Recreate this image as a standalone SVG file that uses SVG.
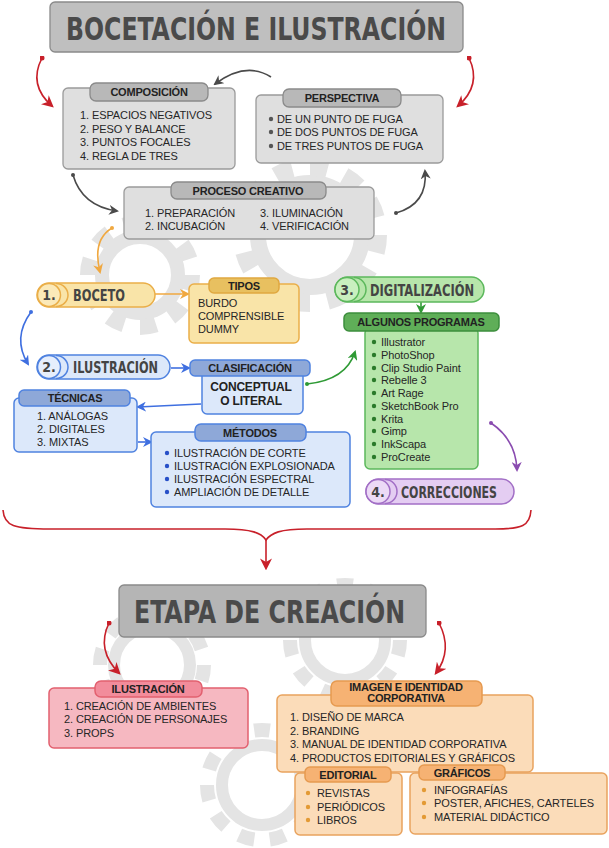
<svg xmlns="http://www.w3.org/2000/svg" width="609" height="848" viewBox="0 0 609 848">
<defs>
<style>
.t{font-family:"Liberation Sans",Arial,sans-serif;font-size:11px;fill:#262626;letter-spacing:-0.1px}
.h{font-family:"Liberation Sans",Arial,sans-serif;font-size:11px;font-weight:bold;fill:#222;text-anchor:middle;letter-spacing:-0.2px}
.big{font-family:"DejaVu Sans Condensed","DejaVu Sans",sans-serif;font-weight:bold;fill:#4a4a4a}
.pl{font-family:"DejaVu Sans Condensed","DejaVu Sans",sans-serif;font-weight:bold;fill:#444;font-size:16px}
.num{font-family:"DejaVu Sans Condensed","DejaVu Sans",sans-serif;font-weight:bold;fill:#444;font-size:14px;text-anchor:middle}
.gray{fill:#dfdfdf;stroke:#9a9a9a;stroke-width:1.3}
.grayh{fill:#b8b8b8;stroke:#8a8a8a;stroke-width:1.3}
.yel{fill:#f9e4a8;stroke:#eaae48;stroke-width:1.5}
.yelh{fill:#e8c060;stroke:#e0a840;stroke-width:1.5}
.blu{fill:#dce8fa;stroke:#4f82e0;stroke-width:1.5}
.bluh{fill:#8ea8d8;stroke:#4f82e0;stroke-width:1.5}
.grn{fill:#b7e6ab;stroke:#5cb85c;stroke-width:1.5}
.grnh{fill:#5fae58;stroke:#3d8e3d;stroke-width:1.5}
.pur{fill:#e4cdf2;stroke:#a26fc6;stroke-width:1.5}
.pnk{fill:#f6b8c1;stroke:#e2606f;stroke-width:1.5}
.pnkh{fill:#f28c9b;stroke:#e2606f;stroke-width:1.5}
.org{fill:#fbdcb9;stroke:#e9a35e;stroke-width:1.5}
.orgh{fill:#f6b273;stroke:#e69a50;stroke-width:1.5}
.gear{fill:none;stroke:#e4e4e4}
.c{fill:none;stroke-width:1.6}
</style>
<marker id="mg" viewBox="0 0 10 10" refX="8" refY="5" markerWidth="10" markerHeight="10" markerUnits="userSpaceOnUse" orient="auto"><path d="M0,0 L10,5 L0,10 L3,5 Z" fill="#4a4a4a"/></marker>
<marker id="mr" viewBox="0 0 10 10" refX="8" refY="5" markerWidth="12" markerHeight="12" markerUnits="userSpaceOnUse" orient="auto"><path d="M0,0 L10,5 L0,10 L3,5 Z" fill="#c8202a"/></marker>
<marker id="mo" viewBox="0 0 10 10" refX="8" refY="5" markerWidth="10" markerHeight="10" markerUnits="userSpaceOnUse" orient="auto"><path d="M0,0 L10,5 L0,10 L3,5 Z" fill="#f0a840"/></marker>
<marker id="mb" viewBox="0 0 10 10" refX="8" refY="5" markerWidth="10" markerHeight="10" markerUnits="userSpaceOnUse" orient="auto"><path d="M0,0 L10,5 L0,10 L3,5 Z" fill="#3f6fe0"/></marker>
<marker id="mgr" viewBox="0 0 10 10" refX="8" refY="5" markerWidth="10" markerHeight="10" markerUnits="userSpaceOnUse" orient="auto"><path d="M0,0 L10,5 L0,10 L3,5 Z" fill="#2f9a35"/></marker>
<marker id="mp" viewBox="0 0 10 10" refX="8" refY="5" markerWidth="10" markerHeight="10" markerUnits="userSpaceOnUse" orient="auto"><path d="M0,0 L10,5 L0,10 L3,5 Z" fill="#8a4cb0"/></marker>
<marker id="dg" viewBox="0 0 4 4" refX="2" refY="2" markerWidth="4" markerHeight="4" markerUnits="userSpaceOnUse"><circle cx="2" cy="2" r="2" fill="#4a4a4a"/></marker>
<marker id="dr" viewBox="0 0 4 4" refX="2" refY="2" markerWidth="5" markerHeight="5" markerUnits="userSpaceOnUse"><circle cx="2" cy="2" r="2" fill="#c8202a"/></marker>
<marker id="do" viewBox="0 0 4 4" refX="2" refY="2" markerWidth="4" markerHeight="4" markerUnits="userSpaceOnUse"><circle cx="2" cy="2" r="2" fill="#f0a840"/></marker>
<marker id="db" viewBox="0 0 4 4" refX="2" refY="2" markerWidth="4" markerHeight="4" markerUnits="userSpaceOnUse"><circle cx="2" cy="2" r="2" fill="#3f6fe0"/></marker>
<marker id="dgr" viewBox="0 0 4 4" refX="2" refY="2" markerWidth="4" markerHeight="4" markerUnits="userSpaceOnUse"><circle cx="2" cy="2" r="2" fill="#2f9a35"/></marker>
<marker id="dp" viewBox="0 0 4 4" refX="2" refY="2" markerWidth="4" markerHeight="4" markerUnits="userSpaceOnUse"><circle cx="2" cy="2" r="2" fill="#8a4cb0"/></marker>
</defs>
<rect width="609" height="848" fill="#ffffff"/>

<g id="gears">
<circle class="gear" cx="310" cy="235" r="52" stroke-width="16"/>
<circle class="gear" cx="310" cy="235" r="68" stroke-width="18" pathLength="24" stroke-dasharray="1 1"/>
<circle class="gear" cx="140" cy="275" r="38" stroke-width="14"/>
<circle class="gear" cx="140" cy="275" r="52" stroke-width="16" pathLength="20" stroke-dasharray="1 1"/>
<circle class="gear" cx="152" cy="665" r="38" stroke-width="12"/>
<circle class="gear" cx="152" cy="665" r="52" stroke-width="14" pathLength="20" stroke-dasharray="1 1"/>
<circle class="gear" cx="345" cy="640" r="40" stroke-width="12"/>
<circle class="gear" cx="345" cy="640" r="55" stroke-width="14" pathLength="22" stroke-dasharray="1 1"/>
<circle class="gear" cx="262" cy="785" r="40" stroke-width="12"/>
<circle class="gear" cx="262" cy="785" r="55" stroke-width="14" pathLength="22" stroke-dasharray="1 1"/>
</g>

<g id="connectors">
<path class="c" d="M42,58 Q28,85 52,106" stroke="#c8202a" stroke-width="2.2" marker-start="url(#dr)" marker-end="url(#mr)"/>
<path class="c" d="M469,58 Q482,85 458,106" stroke="#c8202a" stroke-width="2.2" marker-start="url(#dr)" marker-end="url(#mr)"/>
<path class="c" d="M271,77 Q246,61 215,84" stroke="#4a4a4a" marker-end="url(#mg)"/>
<path class="c" d="M73,175 Q82,206 117,211" stroke="#4a4a4a" marker-start="url(#dg)" marker-end="url(#mg)"/>
<path class="c" d="M396,213 Q428,204 425,171" stroke="#4a4a4a" marker-start="url(#dg)" marker-end="url(#mg)"/>
<path class="c" d="M112,228 Q92,240 100,272" stroke="#f0a840" marker-start="url(#do)" marker-end="url(#mo)"/>
<path class="c" d="M155,294 L188,294" stroke="#f0a840" marker-end="url(#mo)"/>
<path class="c" d="M31,312 Q12,338 28,364" stroke="#3f6fe0" marker-start="url(#db)" marker-end="url(#mb)"/>
<path class="c" d="M171,368 L189,368" stroke="#3f6fe0" marker-end="url(#mb)"/>
<path class="c" d="M201,404 L138,407" stroke="#3f6fe0" marker-end="url(#mb)"/>
<path class="c" d="M138,442 L151,442" stroke="#3f6fe0" marker-end="url(#mb)"/>
<path class="c" d="M421,302 L421,312" stroke="#2f9a35" marker-end="url(#mgr)"/>
<path class="c" d="M307,384 Q346,380 355,352" stroke="#2f9a35" marker-start="url(#dgr)" marker-end="url(#mgr)"/>
<path class="c" d="M491,423 Q516,440 517,470" stroke="#8a4cb0" marker-start="url(#dp)" marker-end="url(#mp)"/>
<path class="c" d="M3,510 C4,526 14,529 50,529 L225,529 C252,529 261,533 266,540 C271,533 280,529 307,529 L495,529 C522,529 530,526 531,510" stroke="#c8202a" stroke-width="2"/>
<path class="c" d="M266,540 L266,568" stroke="#c8202a" stroke-width="2" marker-end="url(#mr)"/>
<path class="c" d="M109,623 Q96,650 119,673" stroke="#c8202a" stroke-width="2.2" marker-start="url(#dr)" marker-end="url(#mr)"/>
<path class="c" d="M439,623 Q453,650 436,673" stroke="#c8202a" stroke-width="2.2" marker-start="url(#dr)" marker-end="url(#mr)"/>
</g>

<g id="n-title">
<rect x="50" y="2" width="413" height="50" rx="5" fill="#bfbfbf" stroke="#8a8a8a" stroke-width="1.3"/>
<text class="big" x="66" y="40" font-size="32" textLength="380" lengthAdjust="spacingAndGlyphs">BOCETACIÓN E ILUSTRACIÓN</text>
</g>

<g id="n-composicion">
<rect class="gray" x="63" y="88" width="172" height="81" rx="5"/>
<rect class="grayh" x="90" y="83" width="118" height="18" rx="6"/>
<text class="h" x="149" y="96">COMPOSICIÓN</text>
<text class="t" x="80" y="119">1. ESPACIOS NEGATIVOS</text>
<text class="t" x="80" y="133">2. PESO Y BALANCE</text>
<text class="t" x="80" y="146">3. PUNTOS FOCALES</text>
<text class="t" x="80" y="160">4. REGLA DE TRES</text>
</g>

<g id="n-perspectiva">
<rect class="gray" x="256" y="95" width="187" height="68" rx="5"/>
<rect class="grayh" x="283" y="89" width="118" height="18" rx="6"/>
<text class="h" x="342" y="102">PERSPECTIVA</text>
<circle cx="271" cy="119" r="2.2" fill="#555"/>
<circle cx="271" cy="132" r="2.2" fill="#555"/>
<circle cx="271" cy="146" r="2.2" fill="#555"/>
<text class="t" x="277" y="123">DE UN PUNTO DE FUGA</text>
<text class="t" x="277" y="136">DE DOS PUNTOS DE FUGA</text>
<text class="t" x="277" y="150">DE TRES PUNTOS DE FUGA</text>
</g>

<g id="n-proceso">
<rect class="gray" x="124" y="187" width="250" height="52" rx="5"/>
<rect class="grayh" x="171" y="182" width="155" height="17" rx="6"/>
<text class="h" x="248" y="195">PROCESO CREATIVO</text>
<text class="t" x="145" y="217">1. PREPARACIÓN</text>
<text class="t" x="145" y="230">2. INCUBACIÓN</text>
<text class="t" x="260" y="217">3. ILUMINACIÓN</text>
<text class="t" x="260" y="230">4. VERIFICACIÓN</text>
</g>

<g id="n-boceto">
<rect class="yel" x="37" y="283" width="118" height="24" rx="12"/>
<path d="M56,283.5 A12,11.5 0 0 1 56,306.5" fill="none" stroke="#eaae48" stroke-width="1.5"/>
<circle cx="49" cy="295" r="11.5" fill="#fbe9b8" stroke="#eaae48" stroke-width="1.5"/>
<text class="num" x="49" y="300">1.</text>
<text class="pl" x="73" y="301" textLength="52" lengthAdjust="spacingAndGlyphs">BOCETO</text>
</g>

<g id="n-tipos">
<rect class="yel" x="189" y="284" width="110" height="59" rx="5"/>
<rect class="yelh" x="209" y="278" width="70" height="15" rx="5"/>
<text class="h" x="244" y="290">TIPOS</text>
<text class="t" x="198" y="307">BURDO</text>
<text class="t" x="198" y="320">COMPRENSIBLE</text>
<text class="t" x="198" y="333">DUMMY</text>
</g>

<g id="n-ilustracion">
<rect class="blu" x="37" y="355" width="133" height="24" rx="12"/>
<path d="M56,355.5 A12,11.5 0 0 1 56,378.5" fill="none" stroke="#4f82e0" stroke-width="1.5"/>
<circle cx="49" cy="367" r="11.5" fill="#e6eefc" stroke="#4f82e0" stroke-width="1.5"/>
<text class="num" x="49" y="372">2.</text>
<text class="pl" x="73" y="373" textLength="85" lengthAdjust="spacingAndGlyphs">ILUSTRACIÓN</text>
</g>

<g id="n-clasificacion">
<rect class="blu" x="202" y="370" width="101" height="44" rx="5"/>
<rect class="bluh" x="190" y="360" width="120" height="16" rx="5"/>
<text class="h" x="250" y="372">CLASIFICACIÓN</text>
<text class="h" x="251" y="391" style="font-size:12px">CONCEPTUAL</text>
<text class="h" x="251" y="405" style="font-size:12px">O LITERAL</text>
</g>

<g id="n-tecnicas">
<rect class="blu" x="14" y="398" width="123" height="54" rx="5"/>
<rect class="bluh" x="19" y="390" width="111" height="16" rx="5"/>
<text class="h" x="75" y="402">TÉCNICAS</text>
<text class="t" x="37" y="420">1. ANÁLOGAS</text>
<text class="t" x="37" y="433">2. DIGITALES</text>
<text class="t" x="37" y="446">3. MIXTAS</text>
</g>

<g id="n-metodos">
<rect class="blu" x="151" y="432" width="199" height="75" rx="5"/>
<rect class="bluh" x="195" y="424" width="111" height="17" rx="6"/>
<text class="h" x="250" y="437">MÉTODOS</text>
<circle cx="167" cy="453" r="2.2" fill="#2850c8"/>
<circle cx="167" cy="466" r="2.2" fill="#2850c8"/>
<circle cx="167" cy="479" r="2.2" fill="#2850c8"/>
<circle cx="167" cy="492" r="2.2" fill="#2850c8"/>
<text class="t" x="174" y="457">ILUSTRACIÓN DE CORTE</text>
<text class="t" x="174" y="470">ILUSTRACIÓN EXPLOSIONADA</text>
<text class="t" x="174" y="483">ILUSTRACIÓN ESPECTRAL</text>
<text class="t" x="174" y="496">AMPLIACIÓN DE DETALLE</text>
</g>

<g id="n-digitalizacion">
<rect class="grn" x="335" y="277" width="149" height="25" rx="12.5"/>
<path d="M354,277.5 A12,12 0 0 1 354,301.5" fill="none" stroke="#5cb85c" stroke-width="1.5"/>
<circle cx="347" cy="289.5" r="12" fill="#c9efbf" stroke="#5cb85c" stroke-width="1.5"/>
<text class="num" x="347" y="294.5">3.</text>
<text class="pl" x="370" y="296" textLength="104" lengthAdjust="spacingAndGlyphs">DIGITALIZACIÓN</text>
</g>

<g id="n-programas">
<rect class="grn" x="365" y="328" width="113" height="141" rx="5"/>
<rect class="grnh" x="344" y="313" width="155" height="18" rx="5"/>
<text class="h" x="421" y="326">ALGUNOS PROGRAMAS</text>
<g fill="#2a7a2a">
<circle cx="374" cy="342" r="2.2"/><circle cx="374" cy="355" r="2.2"/><circle cx="374" cy="368" r="2.2"/><circle cx="374" cy="380" r="2.2"/><circle cx="374" cy="393" r="2.2"/><circle cx="374" cy="406" r="2.2"/><circle cx="374" cy="419" r="2.2"/><circle cx="374" cy="431" r="2.2"/><circle cx="374" cy="444" r="2.2"/><circle cx="374" cy="457" r="2.2"/>
</g>
<text class="t" x="381" y="346">Illustrator</text>
<text class="t" x="381" y="359">PhotoShop</text>
<text class="t" x="381" y="372">Clip Studio Paint</text>
<text class="t" x="381" y="384">Rebelle 3</text>
<text class="t" x="381" y="397">Art Rage</text>
<text class="t" x="381" y="410">SketchBook Pro</text>
<text class="t" x="381" y="423">Krita</text>
<text class="t" x="381" y="435">Gimp</text>
<text class="t" x="381" y="448">InkScapa</text>
<text class="t" x="381" y="461">ProCreate</text>
</g>

<g id="n-correcciones">
<rect class="pur" x="366" y="479" width="148" height="25" rx="12.5"/>
<path d="M385,479.5 A12,12 0 0 1 385,503.5" fill="none" stroke="#a26fc6" stroke-width="1.5"/>
<circle cx="378" cy="491.5" r="12" fill="#ecdaf6" stroke="#a26fc6" stroke-width="1.5"/>
<text class="num" x="378" y="496.5">4.</text>
<text class="pl" x="401" y="498" textLength="96" lengthAdjust="spacingAndGlyphs">CORRECCIONES</text>
</g>

<g id="n-etapa">
<rect x="119" y="585" width="307" height="52" rx="5" fill="#b5b5b5" stroke="#8a8a8a" stroke-width="1.3"/>
<text class="big" x="134" y="623" font-size="32" textLength="271" lengthAdjust="spacingAndGlyphs">ETAPA DE CREACIÓN</text>
</g>

<g id="n-ilustracion2">
<rect class="pnk" x="49" y="688" width="199" height="60" rx="5"/>
<rect class="pnkh" x="95" y="681" width="107" height="16" rx="6"/>
<text class="h" x="148" y="693">ILUSTRACIÓN</text>
<text class="t" x="64" y="710">1. CREACIÓN DE AMBIENTES</text>
<text class="t" x="64" y="723">2. CREACIÓN DE PERSONAJES</text>
<text class="t" x="64" y="737">3. PROPS</text>
</g>

<g id="n-imagen">
<rect class="org" x="277" y="695" width="256" height="77" rx="5"/>
<rect class="orgh" x="331" y="681" width="151" height="25" rx="6"/>
<text class="h" x="406" y="691">IMAGEN E IDENTIDAD</text>
<text class="h" x="406" y="702">CORPORATIVA</text>
<text class="t" x="290" y="721">1. DISEÑO DE MARCA</text>
<text class="t" x="290" y="735">2. BRANDING</text>
<text class="t" x="290" y="748">3. MANUAL DE IDENTIDAD CORPORATIVA</text>
<text class="t" x="290" y="762">4. PRODUCTOS EDITORIALES Y GRÁFICOS</text>
</g>

<g id="n-editorial">
<rect class="org" x="295" y="773" width="107" height="62" rx="5"/>
<rect class="orgh" x="305" y="767" width="86" height="15" rx="5"/>
<text class="h" x="348" y="779">EDITORIAL</text>
<circle cx="308" cy="793" r="2.2" fill="#e39a35"/>
<circle cx="308" cy="807" r="2.2" fill="#e39a35"/>
<circle cx="308" cy="820" r="2.2" fill="#e39a35"/>
<text class="t" x="317" y="797">REVISTAS</text>
<text class="t" x="317" y="811">PERIÓDICOS</text>
<text class="t" x="317" y="824">LIBROS</text>
</g>

<g id="n-graficos">
<rect class="org" x="410" y="773" width="197" height="61" rx="5"/>
<rect class="orgh" x="419" y="765" width="86" height="15" rx="5"/>
<text class="h" x="462" y="777">GRÁFICOS</text>
<circle cx="424" cy="790" r="2.2" fill="#e39a35"/>
<circle cx="424" cy="803" r="2.2" fill="#e39a35"/>
<circle cx="424" cy="817" r="2.2" fill="#e39a35"/>
<text class="t" x="434" y="794">INFOGRAFÍAS</text>
<text class="t" x="434" y="807">POSTER, AFICHES, CARTELES</text>
<text class="t" x="434" y="821">MATERIAL DIDÁCTICO</text>
</g>
</svg>
